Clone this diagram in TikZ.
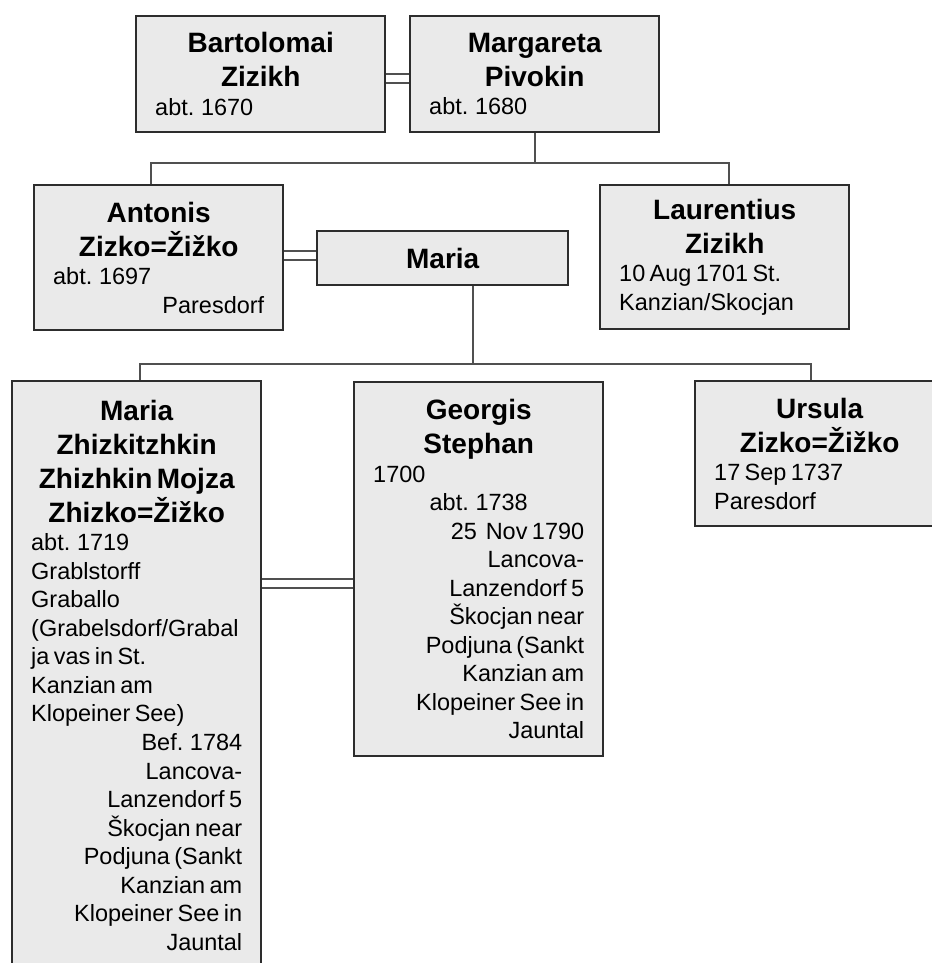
\documentclass[tikz,border=0pt]{standalone}
\usepackage{fontspec}
\setmainfont{Liberation Sans}
\definecolor{cBox} {RGB}{234, 234, 234}
\definecolor{cEdge}{RGB}{45,  45,  45}
\definecolor{cLine}{RGB}{80,  80,  80}
\newcommand\nameF{\fontsize{21}{25.5}\selectfont\bfseries}
\newcommand\dateF{\fontsize{17.6}{21.4}\selectfont}
\newcommand\nm[1]{{\nameF\makebox[\linewidth][c]{#1}\par}}
\newcommand\dL[1]{{\dateF\makebox[\linewidth][l]{#1}\par}}
\newcommand\dR[1]{{\dateF\makebox[\linewidth][r]{#1}\par}}
\newcommand\dC[1]{{\dateF\makebox[\linewidth][c]{#1}\par}}
\tikzset{
  P/.style = {draw=cEdge, fill=cBox, line width=1.8pt, anchor=north west,
              inner xsep=14.25pt, inner ysep=0pt, text width=158.25pt,
              minimum width=186.75pt},
  L/.style = {draw=cLine, line width=1.5pt},
  W/.style = {draw=cLine, line width=1.5pt, double=white, double distance=5.2pt},
}
\begin{document}
\begin{tikzpicture}[x=0.75pt, y=-0.75pt]
\useasboundingbox (0,0) rectangle (931,963);

%% ─── Generation 1 ─────────────────────────────────────────────
\node[P, minimum height=87pt] (bart) at (135,15)
  {\nm{Bartolomai}\nm{Zizikh}\dL{abt. 1670}};
\node[P, minimum height=87pt] (marg) at (409,15)
  {\nm{Margareta}\nm{Pivokin}\dL{abt. 1680}};

\draw[W] ([yshift=-3.4pt]bart.east) coordinate (m0) -- (marg.west |- m0);

%% ─── Generation 2 ─────────────────────────────────────────────
\node[P, minimum height=108.75pt] (anton) at (33,184)
  {\nm{Antonis}\nm{Zizko=Žižko}\dL{abt. 1697}\dR{Paresdorf}};
\node[P, minimum height=40.5pt, minimum width=188.25pt] (mariaS) at (316,230)
  {\nm{Maria}};
\node[P, minimum height=108pt] (laur) at (599,184)
  {\nm{Laurentius}\nm{Zizikh}\dL{10 Aug 1701 St.}\dL{Kanzian/Skocjan}};

\path (marg.south) ++(0,30) coordinate (j1);
\draw[L] (marg.south) -- (j1);
\draw[L] ([xshift=-6pt]anton.north) |- (j1) -| ([xshift=3pt]laur.north);

\draw[W] ([yshift=1.9pt]anton.east) coordinate (m1) -- (mariaS.west |- m1);

%% ─── Generation 3 ─────────────────────────────────────────────
\node[P, minimum height=441pt] (mariaZ) at (11,380)
  {\nm{Maria}\nm{Zhizkitzhkin}\nm{Zhizhkin Mojza}\nm{Zhizko=Žižko}
   \dL{abt. 1719}\dL{Grablstorff}\dL{Graballo}\dL{(Grabelsdorf/Grabal}
   \dL{ja vas in St.}\dL{Kanzian am}\dL{Klopeiner See)}
   \dR{Bef. 1784}\dR{Lancova-}\dR{Lanzendorf 5}\dR{Škocjan near}
   \dR{Podjuna (Sankt}\dR{Kanzian am}\dR{Klopeiner See in}\dR{Jauntal}};
\node[P, minimum height=280.5pt] (georg) at (353,381)
  {\nm{Georgis}\nm{Stephan}
   \dL{1700}\dC{abt. 1738}\dR{25~~Nov 1790}
   \dR{Lancova-}\dR{Lanzendorf 5}\dR{Škocjan near}\dR{Podjuna (Sankt}
   \dR{Kanzian am}\dR{Klopeiner See in}\dR{Jauntal}};
\node[P, minimum height=108.75pt] (ursula) at (694,380)
  {\nm{Ursula}\nm{Zizko=Žižko}\dL{17 Sep 1737}\dL{Paresdorf}};

\path ([xshift=22.5pt]mariaS.south) coordinate (k0) ++(0,78) coordinate (j2);
\draw[L] (k0) -- (j2);
\draw[L] ([xshift=2.6pt]mariaZ.north) |- (j2) -| ([xshift=-6.4pt]ursula.north);

\draw[W] ([yshift=-10.5pt]georg.west) coordinate (m2) -- (mariaZ.east |- m2);

\end{tikzpicture}
\end{document}
